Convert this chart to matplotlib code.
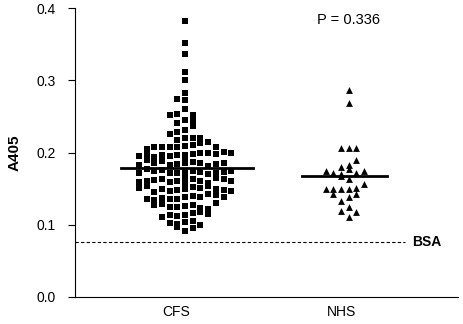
import numpy as np
import matplotlib.pyplot as plt

plt.rcParams['font.family'] = ['Liberation Sans', 'DejaVu Sans']

groups = ['CFS', 'NHS']

# A405 values (order as entered, row by row)
cfs = [0.092, 0.097, 0.096,
       0.104, 0.101, 0.105, 0.103, 0.099,
       0.114, 0.112, 0.116, 0.113, 0.118, 0.111, 0.115,
       0.126, 0.124, 0.128, 0.125, 0.123, 0.129, 0.122, 0.127, 0.130,
       0.138, 0.136, 0.140, 0.135, 0.139, 0.137, 0.142, 0.134, 0.141, 0.136,
       0.139,
       0.150, 0.148, 0.152, 0.147, 0.151, 0.149, 0.153, 0.146, 0.150, 0.154,
       0.148, 0.151, 0.147, 0.155,
       0.162, 0.160, 0.163, 0.159, 0.161, 0.164, 0.158, 0.162, 0.165, 0.160,
       0.163, 0.159, 0.161, 0.166,
       0.174, 0.172, 0.175, 0.171, 0.173, 0.176, 0.170, 0.174, 0.172, 0.177,
       0.173, 0.171, 0.175, 0.169,
       0.186, 0.184, 0.187, 0.183, 0.185, 0.188, 0.182, 0.186, 0.184, 0.189,
       0.185, 0.183,
       0.197, 0.196, 0.198, 0.195, 0.199, 0.197, 0.200, 0.194, 0.198, 0.196,
       0.201, 0.195, 0.199, 0.193,
       0.209, 0.207, 0.211, 0.208, 0.213, 0.207, 0.214, 0.208, 0.207, 0.205,
       0.220, 0.217, 0.220, 0.225, 0.220,
       0.231, 0.228, 0.237,
       0.245, 0.241, 0.244,
       0.260, 0.253, 0.252, 0.252,
       0.272, 0.274,
       0.283, 0.301, 0.312, 0.337, 0.351, 0.382]

nhs = [0.111, 0.119, 0.117,
       0.124,
       0.138, 0.133, 0.143, 0.143,
       0.150, 0.149, 0.151, 0.150, 0.156, 0.150,
       0.163, 0.167,
       0.177, 0.170, 0.172, 0.172, 0.174, 0.174,
       0.183, 0.180, 0.190,
       0.206, 0.206, 0.206,
       0.268, 0.287]

cfs_mid = 0.179
nhs_mid = 0.168
bsa = 0.076
p_text = 'P = 0.336'


def swarm(values, centre, step=0.0467, base=0.0854, row=0.0118):
    # points in the same row are spread sideways: 0, -1, +1, -2, +2 ...
    order = [0]
    for i in range(1, 7):
        order += [-i, i]
    count = {}
    xs = []
    for v in values:
        r = int((v - base) // row)
        n = count.get(r, 0)
        count[r] = n + 1
        xs.append(centre + order[n % len(order)] * step)
    return xs, values


fig = plt.figure(figsize=(4.63, 3.24), dpi=100)
ax = fig.add_axes([75/463, 27/324, 383/463, 289/324])

x1, y1 = swarm(cfs, 1.055)
x2, y2 = swarm(nhs, 2.047)
ax.scatter(x1, y1, marker='s', s=21, c='black', linewidths=0, zorder=3)
ax.scatter(x2, y2, marker='^', s=24, c='black', linewidths=0, zorder=3)

ax.plot([0.667, 1.467], [cfs_mid, cfs_mid], color='black', lw=2, zorder=4)
ax.plot([1.762, 2.277], [nhs_mid, nhs_mid], color='black', lw=2, zorder=4)

ax.plot([0.388, 2.388], [bsa, bsa], color='black', lw=0.8, ls=(0, (3, 2)))
ax.text(2.43, bsa, 'BSA', fontweight='bold', fontsize=10, va='center')
ax.text(2.048, 0.383, p_text, fontsize=10.5, ha='center', va='center')

ax.set_xlim(0.388, 2.709)
ax.set_ylim(0, 0.4)
ax.set_xticks([1, 2])
ax.set_xticklabels(groups)
ax.set_yticks([0, 0.1, 0.2, 0.3, 0.4])
ax.set_yticklabels(['0.0', '0.1', '0.2', '0.3', '0.4'])
ax.tick_params(axis='x', length=0, pad=6, labelsize=10)
ax.tick_params(axis='y', length=5, width=0.8, pad=9, labelsize=10)
ax.set_ylabel('A405', fontweight='bold', fontsize=11)
ax.yaxis.set_label_coords(-0.14, 0.5)

for s in ['top', 'right']:
    ax.spines[s].set_visible(False)
for s in ['left', 'bottom']:
    ax.spines[s].set_linewidth(0.8)

fig.savefig('out.png', dpi=100)
